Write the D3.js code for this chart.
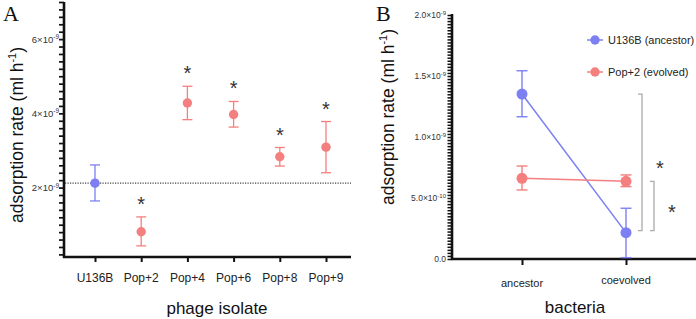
<!DOCTYPE html>
<html lang="en">
  <head>
    <meta charset="UTF-8" />
    <title>adsorption rate</title>
    <style>
      body { margin: 0; background: #fff; }
      text { font-family: "Liberation Sans", Arial, sans-serif; }
      text.panel { font-family: "Liberation Serif", "DejaVu Serif", serif; }
    </style>
  </head>
  <body>
    <svg id="chart" width="696" height="319"></svg>
  </body>
  <script src="https://cdn.jsdelivr.net/npm/d3@7"></script>
  <script>
    // panel A data (values in units of 1e-9 ml/h)
    let phageIsolates = ["U136B", "Pop+2", "Pop+4", "Pop+6", "Pop+8", "Pop+9"];
    let phageMean = [2.12, 0.81, 4.28, 3.97, 2.83, 3.09];
    let phageLow = [1.64, 0.43, 3.83, 3.63, 2.58, 2.4];
    let phageHigh = [2.61, 1.21, 4.73, 4.32, 3.08, 3.78];
    let phageStar = [false, true, true, true, true, true];
    let phageTicks = [2, 4, 6];

    // panel B data (values in units of 1e-9 ml/h)
    let bacteria = ["ancestor", "coevolved"];
    let seriesNames = ["U136B (ancestor)", "Pop+2 (evolved)"];
    let ancestorMean = [1.352, 0.216];
    let ancestorLow = [1.166, 0.011];
    let ancestorHigh = [1.543, 0.416];
    let evolvedMean = [0.661, 0.637];
    let evolvedLow = [0.566, 0.593];
    let evolvedHigh = [0.762, 0.689];
    let bTicks = [0, 0.5, 1.0, 1.5, 2.0];
    let bTickMant = ["0.0", "5.0", "1.0", "1.5", "2.0"];
    let bTickExp = [null, "-10", "-9", "-9", "-9"];

    let blue = "#7c80f2";
    let red = "#f47f7f";
    let svg = d3.select("#chart");

    // ---------- panel A ----------
    let gA = svg.append("g");
    let yA = d3.scaleLinear().domain([0.13, 7.0]).range([257, 2]);
    let xA = d3.scalePoint().domain(phageIsolates).range([95, 326]);

    // minor + major ticks on y
    let minorA = d3.range(0.2, 7.01, 0.2);
    let yAxisA = d3.axisLeft(yA).tickValues(minorA).tickSize(5).tickFormat("");
    gA.append("g").attr("transform", "translate(64,0)").call(yAxisA)
      .call(g => g.select(".domain").remove())
      .call(g => g.selectAll("line").attr("stroke", "#111").attr("stroke-width", 1.7));
    gA.append("line").attr("x1", 64).attr("x2", 64).attr("y1", 2).attr("y2", 258)
      .attr("stroke", "#111").attr("stroke-width", 2.6);
    phageTicks.forEach(v => {
      let t = gA.append("text").attr("x", 59).attr("y", yA(v) + 3.5)
        .attr("text-anchor", "end").attr("font-size", 9.5).attr("fill", "#333");
      t.append("tspan").text(v + "×10");
      t.append("tspan").attr("dy", -3.5).attr("font-size", 6.5).text("-9");
    });

    // x axis
    let xAxisA = d3.axisBottom(xA).tickSize(5).tickFormat("");
    gA.append("g").attr("transform", "translate(0,257)").call(xAxisA)
      .call(g => g.select(".domain").remove())
      .call(g => g.selectAll("line").attr("stroke", "#111").attr("stroke-width", 2));
    gA.append("line").attr("x1", 63).attr("x2", 351).attr("y1", 257).attr("y2", 257)
      .attr("stroke", "#111").attr("stroke-width", 2.6);
    gA.selectAll(".xlab").data(phageIsolates).enter().append("text")
      .attr("x", d => xA(d)).attr("y", 282).attr("text-anchor", "middle")
      .attr("font-size", 12).attr("fill", "#222").text(d => d);

    // reference line at ancestor mean
    gA.append("line").attr("x1", 65).attr("x2", 351)
      .attr("y1", yA(phageMean[0])).attr("y2", yA(phageMean[0]))
      .attr("stroke", "#444").attr("stroke-width", 1.2).attr("stroke-dasharray", "1.2,1.3");

    // error bars and points
    let ptsA = phageIsolates.map((d, i) => ({ name: d, m: phageMean[i], lo: phageLow[i], hi: phageHigh[i], star: phageStar[i] }));
    let colA = d => d.name == "U136B" ? blue : red;
    let eb = gA.selectAll(".eb").data(ptsA).enter().append("g");
    eb.append("line").attr("x1", d => xA(d.name)).attr("x2", d => xA(d.name))
      .attr("y1", d => yA(d.lo)).attr("y2", d => yA(d.hi)).attr("stroke", colA).attr("stroke-width", 1.3);
    eb.append("line").attr("x1", d => xA(d.name) - 5).attr("x2", d => xA(d.name) + 5)
      .attr("y1", d => yA(d.lo)).attr("y2", d => yA(d.lo)).attr("stroke", colA).attr("stroke-width", 1.3);
    eb.append("line").attr("x1", d => xA(d.name) - 5).attr("x2", d => xA(d.name) + 5)
      .attr("y1", d => yA(d.hi)).attr("y2", d => yA(d.hi)).attr("stroke", colA).attr("stroke-width", 1.3);
    eb.append("circle").attr("cx", d => xA(d.name)).attr("cy", d => yA(d.m)).attr("r", 4.7).attr("fill", colA);
    eb.filter(d => d.star).append("text").attr("x", d => xA(d.name)).attr("y", d => yA(d.hi) - 6)
      .attr("text-anchor", "middle").attr("font-size", 20).attr("fill", "#333").text("*");

    // labels
    gA.append("text").attr("transform", "translate(23,135) rotate(-90)").attr("text-anchor", "middle")
      .attr("font-size", 17.5).attr("fill", "#111")
      .call(t => { t.append("tspan").text("adsorption rate (ml h");
        t.append("tspan").attr("dy", -7).attr("font-size", 11).text("-1");
        t.append("tspan").attr("dy", 7).text(")"); });
    gA.append("text").attr("x", 217).attr("y", 314).attr("text-anchor", "middle")
      .attr("font-size", 17).attr("fill", "#111").text("phage isolate");
    gA.append("text").attr("class", "panel").attr("x", 3).attr("y", 21)
      .attr("font-size", 22).attr("fill", "#111").text("A");

    // ---------- panel B ----------
    let gB = svg.append("g");
    let yB = d3.scaleLinear().domain([0, 2.0]).range([259, 15]);
    let xB = d3.scalePoint().domain(bacteria).range([522, 626]);

    let minorB = d3.range(0, 2.001, 0.025);
    let yAxisB = d3.axisLeft(yB).tickValues(minorB).tickSize(4.5).tickFormat("");
    gB.append("g").attr("transform", "translate(452,0)").call(yAxisB)
      .call(g => g.select(".domain").remove())
      .call(g => g.selectAll("line").attr("stroke", "#111").attr("stroke-width", 1.5));
    gB.append("line").attr("x1", 452).attr("x2", 452).attr("y1", 14).attr("y2", 260)
      .attr("stroke", "#111").attr("stroke-width", 2.6);
    bTicks.forEach((v, i) => {
      let t = gB.append("text").attr("x", 446).attr("y", yB(v) + 3)
        .attr("text-anchor", "end").attr("font-size", 8.5).attr("fill", "#333");
      t.append("tspan").text(bTickMant[i] + (bTickExp[i] ? "×10" : ""));
      if (bTickExp[i]) t.append("tspan").attr("dy", -3).attr("font-size", 6).text(bTickExp[i]);
    });

    let xAxisB = d3.axisBottom(xB).tickSize(6).tickFormat("");
    gB.append("g").attr("transform", "translate(0,259)").call(xAxisB)
      .call(g => g.select(".domain").remove())
      .call(g => g.selectAll("line").attr("stroke", "#111").attr("stroke-width", 2));
    gB.append("line").attr("x1", 451).attr("x2", 696).attr("y1", 259).attr("y2", 259)
      .attr("stroke", "#111").attr("stroke-width", 2.6);
    gB.selectAll(".xlab").data(bacteria).enter().append("text")
      .attr("x", d => xB(d)).attr("y", (d, i) => i == 0 ? 287 : 284).attr("text-anchor", "middle")
      .attr("font-size", 11).attr("fill", "#222").text(d => d);

    let seriesB = [
      { name: seriesNames[0], color: blue, m: ancestorMean, lo: ancestorLow, hi: ancestorHigh },
      { name: seriesNames[1], color: red, m: evolvedMean, lo: evolvedLow, hi: evolvedHigh }
    ];
    let line = d3.line().x((d, i) => xB(bacteria[i])).y(d => yB(d));
    seriesB.forEach(s => {
      let g = gB.append("g");
      g.append("path").attr("d", line(s.m)).attr("fill", "none").attr("stroke", s.color).attr("stroke-width", 1.5);
      bacteria.forEach((b, i) => {
        let x = xB(b);
        g.append("line").attr("x1", x).attr("x2", x).attr("y1", yB(s.lo[i])).attr("y2", yB(s.hi[i]))
          .attr("stroke", s.color).attr("stroke-width", 1.4);
        [s.lo[i], s.hi[i]].forEach(v => g.append("line").attr("x1", x - 5.5).attr("x2", x + 5.5)
          .attr("y1", yB(v)).attr("y2", yB(v)).attr("stroke", s.color).attr("stroke-width", 1.4));
        g.append("circle").attr("cx", x).attr("cy", yB(s.m[i])).attr("r", 5.5).attr("fill", s.color);
      });
    });

    // significance brackets
    let bx = xB("coevolved");
    let brackets = [
      { x: bx + 16, top: ancestorMean[0], bot: ancestorMean[1] },
      { x: bx + 28, top: evolvedMean[1], bot: ancestorMean[1] }
    ];
    brackets.forEach(br => {
      gB.append("path")
        .attr("d", `M${br.x - 4},${yB(br.top)}H${br.x}V${yB(br.bot) - 2}H${br.x - 4}`)
        .attr("fill", "none").attr("stroke", "#aaa").attr("stroke-width", 1.3);
      gB.append("text").attr("x", br.x + 18).attr("y", (yB(br.top) + yB(br.bot)) / 2 + 12)
        .attr("text-anchor", "middle").attr("font-size", 20).attr("fill", "#333").text("*");
    });

    // legend
    seriesB.forEach((s, i) => {
      let y = 40 + i * 32;
      gB.append("line").attr("x1", 587).attr("x2", 603).attr("y1", y).attr("y2", y)
        .attr("stroke", s.color).attr("stroke-width", 1.5);
      gB.append("circle").attr("cx", 595).attr("cy", y).attr("r", 4.7).attr("fill", s.color);
      gB.append("text").attr("x", 608).attr("y", y + 4).attr("font-size", 11).attr("fill", "#222").text(s.name);
    });

    gB.append("text").attr("transform", "translate(394,117) rotate(-90)").attr("text-anchor", "middle")
      .attr("font-size", 17.5).attr("fill", "#111")
      .call(t => { t.append("tspan").text("adsorption rate (ml h");
        t.append("tspan").attr("dy", -7).attr("font-size", 11).text("-1");
        t.append("tspan").attr("dy", 7).text(")"); });
    gB.append("text").attr("x", 575).attr("y", 313).attr("text-anchor", "middle")
      .attr("font-size", 17).attr("fill", "#111").text("bacteria");
    gB.append("text").attr("class", "panel").attr("x", 376).attr("y", 21)
      .attr("font-size", 22).attr("fill", "#111").text("B");
  </script>
</html>
